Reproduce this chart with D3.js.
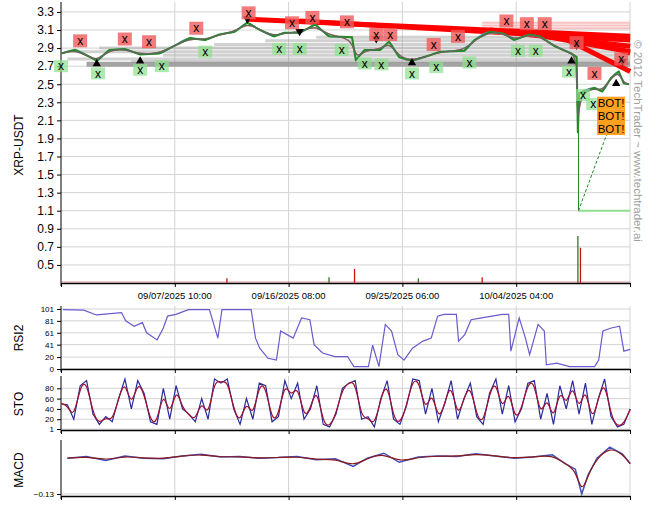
<!DOCTYPE html>
<html>
<head>
<meta charset="utf-8">
<script src="https://cdn.jsdelivr.net/npm/d3@7"></script>
<style>
  body { margin: 0; background: #fff; font-family: "Liberation Sans", Arial, sans-serif; }
  svg text { font-family: "Liberation Sans", Arial, sans-serif; }
</style>
</head>
<body>
<div id="chart"></div>
<script>
// ---- data (days since 08/29/2025 12:00) ----
const priceDays = [0,1.1,2.3,2.8,3.8,5.0,6.2,7.7,8.8,10.1,11.3,12.4,13.6,14.6,15.6,16.7,17.5,18.7,19.9,21.0,22.8,23.1,23.8,25.0,25.7,26.5,27.5,28.9,29.7,31.6,32.4,33.6,34.7,35.5,36.7,37.5,38.7,40.0,40.4,40.5,40.6,41.8,42.4,43.1,43.7,44.1,44.5];
const priceValues = [2.84,2.88,2.80,2.76,2.88,2.89,2.83,2.84,2.92,3.01,2.99,3.05,3.08,3.18,3.10,3.03,3.07,3.07,3.16,3.03,3.02,2.77,2.88,2.88,2.97,2.80,2.76,2.82,2.86,2.87,2.99,3.08,3.06,2.99,3.05,3.03,2.92,2.84,2.80,1.96,2.40,2.46,2.42,2.57,2.64,2.51,2.50];

const sellDays = [1.5,5.0,6.9,10.6,14.7,18.1,19.7,22.4,24.7,25.8,29.2,31.1,34.9,36.5,37.9,40.4,41.8,43.9];
const sellPrices = [2.98,3.00,2.97,3.12,3.29,3.18,3.24,3.19,3.05,3.05,2.94,3.03,3.20,3.17,3.17,2.96,2.62,2.78];
const buyDays = [0,2.9,6.2,7.9,11.3,17.1,18.7,22.0,23.8,25.1,27.5,29.4,32.0,35.8,37.2,39.8,40.9,41.7];
const buyPrices = [2.70,2.62,2.66,2.70,2.86,2.89,2.89,2.88,2.73,2.72,2.62,2.69,2.74,2.87,2.87,2.64,2.38,2.28];
const botPrices = [2.29,2.15,2.01];
const botDay = 43.1;

const upDays = [2.8,6.2,27.5,40.0,43.5];
const upPrices = [2.76,2.79,2.77,2.79,2.54];
const downDays = [14.6,18.7,24.7,40.4,44.0];
const downPrices = [3.19,3.05,2.97,2.90,2.72];

const grayLevels = [2.72,2.75,2.78,2.82,2.86,2.90,2.94,2.98,3.02];
const grayStarts = [2.0,5.5,0.5,8.0,1.5,3.0,12.0,16.0,20.0];
const redFrom = [[14.6,3.22],[18.7,3.20],[33.6,3.10],[36.0,3.08],[39.0,3.04]];
const redTo = [[44.6,3.03],[44.6,2.99],[44.6,2.92],[44.6,2.86],[44.6,2.64]];

const volDays = [13.0,21.0,23.0,28.0,33.0,40.5,40.7];
const volValues = [4,5,12,4,5,40,30];

const rsiDays = [0.15,1.79,2.77,4.74,5.07,5.73,6.38,6.71,7.53,8.02,8.35,9.0,9.99,11.63,12.29,12.61,13.6,14.9,15.24,15.57,16.22,16.88,17.21,18.19,18.85,19.5,19.83,20.49,21.47,22.45,22.95,24.09,24.42,24.91,25.41,25.9,26.39,26.88,27.54,28.36,29.01,29.51,30.0,30.98,31.15,31.64,32.13,32.95,34.59,35.08,35.25,35.9,36.39,36.72,37.38,37.87,38.03,38.85,39.84,41.15,41.81,42.13,42.46,43.12,43.77,44.1,44.59];
const rsiValues = [100,99,91,95,81,72,78,61,49,69,89,92,100,100,52,100,100,100,52,35,18,15,64,52,86,83,41,27,21,21,4,4,40,4,75,64,24,15,35,47,52,89,92,92,47,58,83,86,92,92,30,86,52,24,75,64,7,10,4,4,4,15,64,69,72,30,33];

const stoValues = [50,48,20,85,95,30,10,25,15,60,98,40,95,70,15,10,80,20,85,40,30,15,60,20,98,90,98,40,10,60,20,90,85,15,25,95,60,90,20,40,85,10,5,30,80,90,95,20,25,5,60,95,20,10,45,98,95,30,80,15,50,95,20,60,90,25,10,70,98,30,85,15,40,90,95,20,70,10,85,40,95,30,90,10,60,98,25,5,10,40];
const macdDays = [0.5,2,3.5,5,6.5,8,9.5,11,12.5,14,15.5,17,18.5,20,21.5,22.9,24,25.3,26.5,28,29.5,31,32.5,34,35.5,37,38.5,39.5,40.3,40.8,41.3,42,43,44,44.6];
const macdValues = [0.0,0.006,-0.008,0.008,0.0,-0.002,0.008,0.014,0.004,0.006,0.0,0.002,0.006,-0.006,-0.002,-0.03,0.0,0.018,-0.015,0.004,0.008,0.006,0.016,0.008,0.0,0.004,0.012,-0.02,-0.04,-0.13,-0.06,0.0,0.04,0.015,-0.02];

const tickLabels = ["09/07/2025 10:00","09/16/2025 08:00","09/25/2025 06:00","10/04/2025 04:00"];

// ---- setup ----
const W = 657, H = 514;
const parse = d3.timeParse("%m/%d/%Y %H:%M");
const t0 = parse("08/29/2025 12:00");
const dayToDate = d => new Date(+t0 + d * 864e5);
const x = d3.scaleTime().domain([t0, parse("10/13/2025 02:00")]).range([61, 630]);
const xd = d => x(dayToDate(d));
const tickDates = tickLabels.map(parse);
const allTicks = [t0, ...tickDates, x.domain()[1]];

const svg = d3.select("#chart").append("svg").attr("width", W).attr("height", H);

const panels = {
  price: {top: 2, bottom: 283},
  rsi: {top: 306, bottom: 369},
  sto: {top: 376, bottom: 430},
  macd: {top: 440, bottom: 496}
};

function panelFrame(p, yScale, ticks, fmt, fontSize, title, titleY) {
  const g = svg.append("g");
  // horizontal grid
  g.selectAll(".hg").data(ticks).enter().append("line")
    .attr("x1", 61).attr("x2", 630)
    .attr("y1", d => yScale(d)).attr("y2", d => yScale(d))
    .attr("stroke", "#d3d3d3").attr("stroke-width", 1);
  // vertical grid
  g.selectAll(".vg").data(tickDates).enter().append("line")
    .attr("x1", d => x(d)).attr("x2", d => x(d))
    .attr("y1", p.top).attr("y2", p.bottom)
    .attr("stroke", "#d3d3d3");
  g.append("line").attr("x1", 630).attr("x2", 630).attr("y1", p.top).attr("y2", p.bottom).attr("stroke", "#d3d3d3");
  // left axis
  const ax = svg.append("g").attr("transform", "translate(61,0)")
    .call(d3.axisLeft(yScale).tickValues(ticks).tickFormat(fmt).tickSize(4).tickSizeOuter(0));
  ax.select(".domain").remove();
  ax.selectAll("text").attr("font-size", fontSize).attr("fill", "#000");
  ax.selectAll("line").attr("stroke", "#000");
  svg.append("line").attr("x1", 61).attr("x2", 61).attr("y1", p.top).attr("y2", p.bottom + 3).attr("stroke", "#000");
  // bottom axis
  const bx = svg.append("g").attr("transform", `translate(0,${p.bottom})`)
    .call(d3.axisBottom(x).tickValues(allTicks).tickFormat("").tickSize(4).tickSizeOuter(0));
  bx.selectAll("line").attr("stroke", "#000");
  bx.select(".domain").attr("stroke", "#000").attr("stroke-width", 1.5);
  svg.append("text").attr("transform", `translate(23,${titleY}) rotate(-90)`)
    .attr("text-anchor", "middle").attr("font-size", 12).text(title);
  return g;
}

// ---- price panel ----
const y = d3.scaleLinear().domain([0.3, 3.41]).range([283, 2]);
const priceTicks = d3.range(0.5, 3.31, 0.2);
panelFrame(panels.price, y, priceTicks, d3.format(".1f"), 12, "XRP-USDT", 145);

// date labels
svg.selectAll(".dl").data(tickDates).enter().append("text")
  .attr("x", d => x(d)).attr("y", 299).attr("text-anchor", "middle")
  .attr("font-size", 9.5).text((d, i) => tickLabels[i]);

// volume
const yv = d3.scaleLinear().domain([0, 40]).range([283, 236]);
svg.selectAll(".vol").data(volDays).enter().append("line")
  .attr("x1", d => xd(d)).attr("x2", d => xd(d))
  .attr("y1", 283).attr("y2", (d, i) => yv(volValues[i]))
  .attr("stroke", (d, i) => i % 2 ? "#2a7a2a" : "#cc1111").attr("stroke-width", 1.3);
svg.append("line").attr("x1", 61).attr("x2", 630).attr("y1", 282).attr("y2", 282).attr("stroke", "#b03030").attr("stroke-opacity", 0.5);

// gray support lines
svg.selectAll(".gl").data(grayLevels).enter().append("line")
  .attr("x1", (d, i) => xd(grayStarts[i])).attr("x2", 630)
  .attr("y1", d => y(d)).attr("y2", d => y(d))
  .attr("stroke", "#9a9a9a").attr("stroke-opacity", (d, i) => i === 0 ? 0.9 : 0.45)
  .attr("stroke-width", (d, i) => i === 0 ? 5 : 3);
svg.selectAll(".lr").data([3.18, 3.15, 3.12]).enter().append("line")
  .attr("x1", xd(33)).attr("x2", 630).attr("y1", d => y(d)).attr("y2", d => y(d))
  .attr("stroke", "#f08080").attr("stroke-opacity", 0.5).attr("stroke-width", 2);

// red resistance lines
svg.selectAll(".rl").data(redFrom).enter().append("line")
  .attr("x1", d => xd(d[0])).attr("y1", d => y(d[1]))
  .attr("x2", (d, i) => xd(redTo[i][0])).attr("y2", (d, i) => y(redTo[i][1]))
  .attr("stroke", "#ff0000").attr("stroke-width", 5);
svg.append("line").attr("x1", xd(41.5)).attr("y1", y(2.96)).attr("x2", 630).attr("y2", y(2.84))
  .attr("stroke", "#ff0000").attr("stroke-width", 4).attr("stroke-dasharray", "10,6");

// crash green lines
svg.append("line").attr("x1", xd(40.55)).attr("x2", xd(40.55)).attr("y1", y(1.1)).attr("y2", y(2.4)).attr("stroke", "#1a8a1a");
svg.append("line").attr("x1", xd(40.55)).attr("x2", 630).attr("y1", y(1.1)).attr("y2", y(1.1)).attr("stroke", "#90e090").attr("stroke-width", 2);
svg.append("line").attr("x1", xd(40.55)).attr("y1", y(1.1)).attr("x2", xd(42.9)).attr("y2", y(2.0))
  .attr("stroke", "#1a8a1a").attr("stroke-dasharray", "3,2");

// price lines
const pts = priceDays.map((d, i) => [xd(d), y(priceValues[i])]);
svg.append("path").attr("d", d3.line().curve(d3.curveBasis)(pts)).attr("fill", "none").attr("stroke", "#e08080").attr("stroke-width", 1.5);
svg.append("path").attr("d", d3.line().curve(d3.curveMonotoneX)(pts)).attr("fill", "none").attr("stroke", "#7090c0").attr("stroke-width", 1.2);
svg.append("path").attr("d", d3.line()(pts)).attr("fill", "none").attr("stroke", "#228b22").attr("stroke-width", 2);
svg.append("path").attr("d", d3.line().curve(d3.curveBasis)(pts)).attr("fill", "none").attr("stroke", "#666").attr("stroke-width", 1.2);

// triangles
svg.selectAll(".up").data(upDays).enter().append("path")
  .attr("d", d3.symbol(d3.symbolTriangle, 30)())
  .attr("transform", (d, i) => `translate(${xd(d)},${y(upPrices[i]) + 3})`).attr("fill", "#000");
svg.selectAll(".dn").data(downDays).enter().append("path")
  .attr("d", d3.symbol(d3.symbolTriangle, 30)())
  .attr("transform", (d, i) => `translate(${xd(d)},${y(downPrices[i]) - 3}) rotate(180)`).attr("fill", "#000");

function boxes(days, prices, fill, label, w, h, fs) {
  const g = svg.append("g");
  const b = g.selectAll("g").data(days).enter().append("g")
    .attr("transform", (d, i) => `translate(${xd(d)},${y(prices[i])})`);
  b.append("rect").attr("x", -w / 2).attr("y", -h / 2).attr("width", w).attr("height", h).attr("fill", fill);
  b.append("text").attr("text-anchor", "middle").attr("dy", "0.35em").attr("font-size", fs).text(label);
}
boxes(sellDays, sellPrices, "rgba(240,90,90,0.8)", "x", 14, 13, 12);
boxes(buyDays, buyPrices, "rgba(140,225,140,0.7)", "x", 14, 12, 12);
boxes(botPrices.map(() => botDay), botPrices, "#ffa020", "BOT!", 28, 13, 11.5);

// watermark
svg.append("text").attr("transform", "translate(634,40) rotate(90)")
  .attr("font-size", 11.5).attr("fill", "#a0a0a0").text("© 2012 TechTrader ~ www.techtrader.ai");

// ---- RSI ----
const yr = d3.scaleLinear().domain([0, 101]).range([369, 309]);
panelFrame(panels.rsi, yr, [0, 20, 41, 61, 81, 101], d3.format("d"), 8, "RSI2", 338);
svg.append("path").attr("d", d3.line().x(d => xd(d)).y((d, i) => yr(rsiValues[i]))(rsiDays))
  .attr("fill", "none").attr("stroke", "#6a5acd").attr("stroke-width", 1.2);

// ---- STO ----
const ys = d3.scaleLinear().domain([1, 100]).range([429, 378]);
panelFrame(panels.sto, ys, [1, 20, 40, 60, 80], d3.format("d"), 8, "STO", 404);
const stoDays = stoValues.map((v, i) => i * 44.6 / (stoValues.length - 1));
svg.append("path").attr("d", d3.line().x(d => xd(d)).y((d, i) => ys(stoValues[i]))(stoDays))
  .attr("fill", "none").attr("stroke", "#2a2a9a").attr("stroke-width", 1.2);
svg.append("path").attr("d", d3.line().curve(d3.curveBasis).x(d => xd(d)).y((d, i) => ys(stoValues[i]))(stoDays))
  .attr("fill", "none").attr("stroke", "#a01030").attr("stroke-width", 1.2);

// ---- MACD ----
const ym = d3.scaleLinear().domain([-0.13, 0.055]).range([494, 443]);
panelFrame(panels.macd, ym, [-0.13], d3.format(".2f"), 8, "MACD", 470);
svg.append("path").attr("d", d3.line().x(d => xd(d)).y((d, i) => ym(macdValues[i]))(macdDays))
  .attr("fill", "none").attr("stroke", "#4050c0").attr("stroke-width", 1.5);
svg.append("path").attr("d", d3.line().curve(d3.curveBasis).x(d => xd(d)).y((d, i) => ym(macdValues[i]))(macdDays))
  .attr("fill", "none").attr("stroke", "#8b1a1a").attr("stroke-width", 1.2);
</script>
</body>
</html>
